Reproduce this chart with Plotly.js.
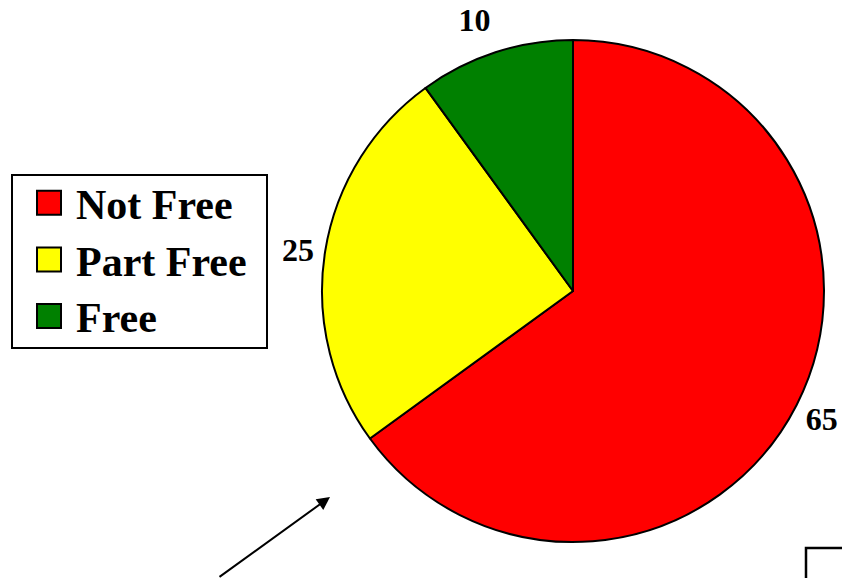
<!DOCTYPE html>
<html>
<head>
<meta charset="utf-8">
<script src="https://cdn.plot.ly/plotly-3.0.1.min.js"></script>
<style>html,body{margin:0;padding:0;background:#fff;}#chart{width:842px;height:578px;}</style>
</head>
<body>
<div id="chart"></div>
<script>
const categories = ["Not Free", "Part Free", "Free"];
const values = [65, 25, 10];
const colors = ["#ff0000", "#ffff00", "#008000"];

const serif = "Liberation Serif, Times New Roman, serif";

const trace = {
  type: "pie",
  labels: categories,
  values: values,
  sort: false,
  direction: "clockwise",
  rotation: 0,
  marker: {colors: colors, line: {color: "#000", width: 2}},
  textinfo: "value",
  textposition: "outside",
  outsidetextfont: {family: serif, size: 32, color: "#000", weight: "bold"},
  domain: {x: [322/842, 824/842], y: [36/578, 538/578]},
  hoverinfo: "none"
};

const layout = {
  width: 842, height: 578,
  margin: {l: 0, r: 0, t: 0, b: 0},
  paper_bgcolor: "#fff",
  showlegend: true,
  legend: {
    x: 11/842, y: 1 - 174/578, xanchor: "left", yanchor: "top",
    bordercolor: "#000", borderwidth: 2, bgcolor: "#fff",
    font: {family: serif, size: 42, color: "#000", weight: "bold"},
    traceorder: "normal",
    itemwidth: 53
  },
  annotations: [{
    xref: "paper", yref: "paper",
    x: 330/842, y: 1 - 497/578,
    ax: -112, ay: 81, axref: "pixel", ayref: "pixel",
    text: "", showarrow: true, arrowhead: 2, arrowsize: 1.3, arrowwidth: 2, arrowcolor: "#000"
  }],
  shapes: [{
    type: "rect", xref: "paper", yref: "paper",
    x0: 806/842, x1: 1.1, y0: 1 - 548/578, y1: -0.1,
    line: {color: "#000", width: 2.5}
  }]
};

Plotly.newPlot("chart", [trace], layout, {displayModeBar: false, staticPlot: true}).then(function (gd) {
  // enlarge legend swatches to match the reference's bigger squares
  gd.querySelectorAll(".legend .legendpoints path").forEach(function (p) {
    p.setAttribute("transform", "translate(36,0) scale(2)");
    p.style.strokeWidth = "1px";
  });
  // legend box size and row placement as in the reference
  const bg = gd.querySelector(".legend rect.bg");
  if (bg) { bg.setAttribute("width", "255"); bg.setAttribute("height", "173"); }
  gd.querySelectorAll(".legend g.traces").forEach(function (g, i) {
    const tr = g.getAttribute("transform") || "";
    g.setAttribute("transform", "translate(0," + (-7 - i) + ") " + tr);
  });
  // nudge outside value labels a bit further out, like the reference
  const nudges = [[0, 10], [-2, -1], [4, -16]];
  gd.querySelectorAll(".pielayer g.slice").forEach(function (s, i) {
    const t = s.querySelector("g.slicetext");
    if (t && nudges[i]) {
      const tr = t.getAttribute("transform") || "";
      t.setAttribute("transform", "translate(" + nudges[i][0] + "," + nudges[i][1] + ") " + tr);
    }
  });
});
</script>
</body>
</html>
